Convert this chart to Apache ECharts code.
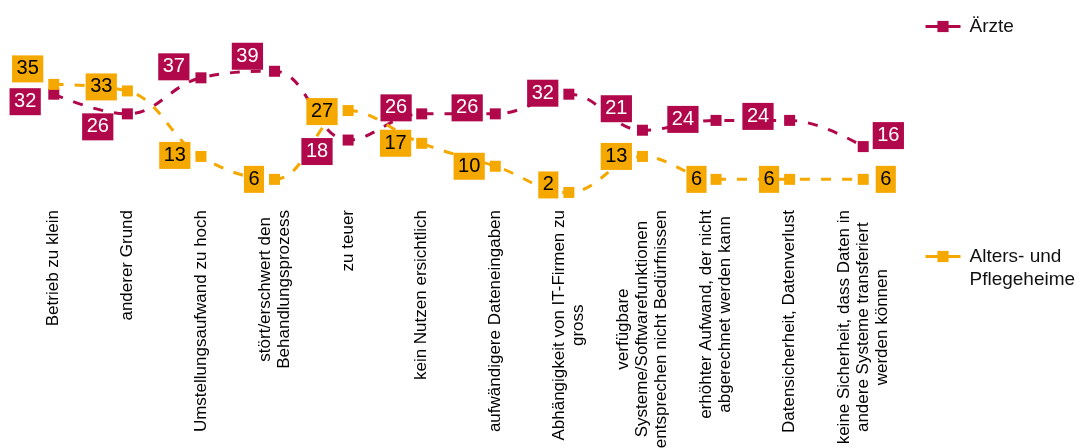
<!DOCTYPE html>
<html>
<head>
<meta charset="utf-8">
<script src="https://cdn.jsdelivr.net/npm/echarts@6/dist/echarts.min.js"></script>
<style>html,body{margin:0;padding:0;background:#fff}#chart{width:1080px;height:448px}</style>
</head>
<body>
<div id="chart"></div>
<script>
const categories = [
  "Betrieb zu klein",
  "anderer Grund",
  "Umstellungsaufwand zu hoch",
  "stört/erschwert den\nBehandlungsprozess",
  "zu teuer",
  "kein Nutzen ersichtlich",
  "aufwändigere Dateneingaben",
  "Abhängigkeit von IT-Firmen zu\ngross",
  "verfügbare\nSysteme/Softwarefunktionen\nentsprechen nicht Bedürfnissen",
  "erhöhter Aufwand, der nicht\nabgerechnet werden kann",
  "Datensicherheit, Datenverlust",
  "keine Sicherheit, dass Daten in\nandere Systeme transferiert\nwerden können"
];
const seriesNames = ["Ärzte", "Alters- und Pflegeheime"];
const aerzte = [32, 26, 37, 39, 18, 26, 26, 32, 21, 24, 24, 16];
const heime  = [35, 33, 13, 6, 27, 17, 10, 2, 13, 6, 6, 6];

// label placement (style only): [side, dx, dy]
const aerzteLabelPlace = [
  ['left', -2.5, 7.5], ['left', -3.5, 13], ['left', -1, -11], ['left', -1, -15],
  ['left', -5, 11.5], ['left', 0.5, -6], ['left', -2, -6], ['left', 0, -1],
  ['left', 0, -21.5], ['left', -7, -1], ['left', -5.5, -4], ['right', -1, -11]
];
const heimeLabelPlace = [
  ['left', 0, -15.5], ['left', 0, -4], ['left', 0, -1], ['left', 0, 0],
  ['left', 0, 1], ['left', 0, 0], ['left', 0, 0], ['left', 0, -7.5],
  ['left', 0, 0], ['left', 1, 0], ['left', 0, 0], ['right', 2, 0]
];

const FONT = 'Liberation Sans, Arial, sans-serif';
const C1 = '#B0084A';
const C2 = '#F5A800';

function buildData(values, places) {
  return values.map((v, i) => ({
    value: v,
    label: { position: places[i][0], offset: [places[i][1], places[i][2]] }
  }));
}

function makeSeries(name, values, places, color, textColor) {
  return {
    name: name,
    type: 'line',
    data: buildData(values, places),
    smooth: 0.4,
    symbol: 'rect',
    symbolSize: 11,
    itemStyle: { color: color },
    lineStyle: { color: color, width: 3, type: [10, 11] },
    label: {
      show: true,
      distance: 5,
      color: textColor,
      backgroundColor: color,
      fontFamily: FONT,
      fontSize: 20,
      lineHeight: 21,
      padding: [3, 4.5, 3, 4.5]
    },
    emphasis: { disabled: true },
    animation: false
  };
}

const chart = echarts.init(document.getElementById('chart'), null, { renderer: 'canvas' });
chart.setOption({
  animation: false,
  backgroundColor: '#ffffff',
  grid: { left: 17, right: 180, top: 68, bottom: 249, containLabel: false, outerBoundsMode: 'none' },
  legend: [
    {
      data: [seriesNames[0]],
      orient: 'vertical',
      left: 924, top: 17, padding: 0,
      itemWidth: 35, itemHeight: 14,
      lineStyle: { type: 'solid', width: 3 },
      textStyle: { fontFamily: FONT, fontSize: 19, color: '#111', padding: [0, 0, 0, 4] },
      selectedMode: false
    },
    {
      data: [seriesNames[1]],
      orient: 'vertical',
      left: 924, top: 222, padding: 0,
      itemWidth: 35, itemHeight: 14,
      lineStyle: { type: 'solid', width: 3 },
      formatter: () => '\nAlters- und\nPflegeheime',
      textStyle: { fontFamily: FONT, fontSize: 19, lineHeight: 23, color: '#111', padding: [0, 0, 0, 4] },
      selectedMode: false
    }
  ],
  xAxis: {
    type: 'category',
    data: categories,
    boundaryGap: true,
    axisLine: { show: false },
    axisTick: { show: false },
    splitLine: { show: false },
    axisLabel: {
      interval: 0,
      rotate: 90,
      margin: 11,
      color: '#000',
      fontFamily: FONT,
      fontSize: 17,
      lineHeight: 19,
      formatter: (v) => v.split('\n').map(s => '{c|' + s + '}').join('\n'),
      rich: { c: { align: 'center', fontFamily: FONT, fontSize: 17, lineHeight: 19, color: '#000' } }
    }
  },
  yAxis: {
    type: 'value',
    min: 0, max: 40,
    show: false
  },
  series: [
    makeSeries(seriesNames[0], aerzte, aerzteLabelPlace, C1, '#ffffff'),
    makeSeries(seriesNames[1], heime, heimeLabelPlace, C2, '#000000')
  ]
});
</script>
</body>
</html>
